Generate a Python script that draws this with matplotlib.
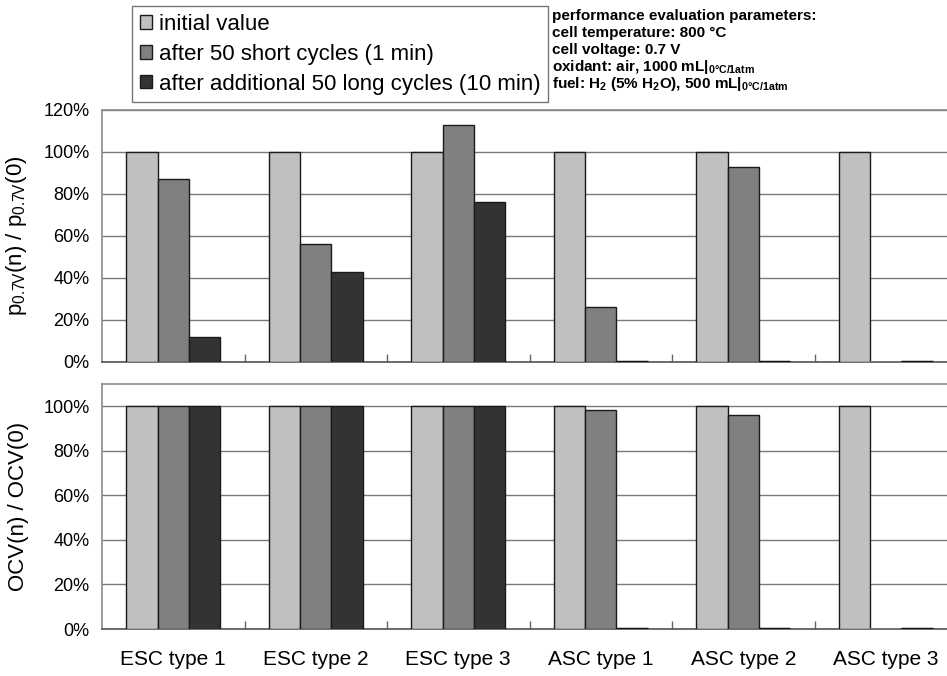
import numpy as np
import matplotlib
matplotlib.use("Agg")
import matplotlib.pyplot as plt
from matplotlib.patches import Patch
from matplotlib.ticker import FixedLocator, FuncFormatter

plt.rcParams['font.family'] = ['Liberation Sans', 'DejaVu Sans']
plt.rcParams['mathtext.fontset'] = 'custom'
plt.rcParams['mathtext.rm'] = 'Liberation Sans'
plt.rcParams['mathtext.bf'] = 'Liberation Sans:bold'
plt.rcParams['mathtext.it'] = 'Liberation Sans:italic'

# data
cells = ["ESC type 1", "ESC type 2", "ESC type 3", "ASC type 1", "ASC type 2", "ASC type 3"]
series = ["initial value", "after 50 short cycles (1 min)",
          "after additional 50 long cycles (10 min)"]
power_initial = [100, 100, 100, 100, 100, 100]
power_short = [87, 56, 113, 26, 93, 0]
power_long = [12, 43, 76, 0, 0, 0]
ocv_initial = [100, 100, 100, 100, 100, 100]
ocv_short = [100, 100, 100, 98.5, 96, 0]
ocv_long = [100, 100, 100, 0, 0, 0]

colors = ["#c0c0c0", "#808080", "#333333"]
params = [
    "performance evaluation parameters:",
    "cell temperature: 800 °C",
    "cell voltage: 0.7 V",
    r"oxidant: air, 1000 mL|$\mathbf{_{0°C/1atm}}$",
    r"fuel: H$\mathbf{_2}$ (5% H$\mathbf{_2}$O), 500 mL|$\mathbf{_{0°C/1atm}}$",
]

fig = plt.figure(figsize=(9.47, 6.76), dpi=100)
W, H = 947, 676
ax_top = fig.add_axes([102 / W, 1 - 362 / H, 855 / W, 252 / H])
ax_bot = fig.add_axes([102 / W, 1 - 629 / H, 855 / W, 245 / H])

x = np.arange(len(cells)) + 0.5
w = 0.22


def draw_panel(ax, data, ymax, ylabel):
    for k, vals in enumerate(data):
        bars = ax.bar(x + (k - 1) * w, vals, width=w, color=colors[k],
                      edgecolor="#1a1a1a", linewidth=1.0, zorder=3)
        # zero-height bars show up as a thick flat line in the original
        for b, v in zip(bars, vals):
            if v == 0:
                b.set_linewidth(2.5 if k == 2 else 1.2)
                b.set_edgecolor("#111111" if k == 2 else "#777777")
    ax.set_xlim(0, len(cells))
    ax.set_ylim(0, ymax)
    ax.yaxis.set_major_locator(FixedLocator(np.arange(0, ymax + 1, 20)))
    ax.yaxis.set_major_formatter(FuncFormatter(lambda v, p: f"{v:.0f}%"))
    ax.grid(axis="y", color="#7a7a7a", linewidth=1.0, zorder=0)
    ax.tick_params(axis="y", length=0, pad=9, labelsize=13)
    ax.set_xticks(x)
    ax.set_xticks(np.arange(1, len(cells)), minor=True)
    ax.tick_params(axis="x", which="major", length=0, pad=15, labelsize=15)
    ax.tick_params(axis="x", which="minor", direction="in", length=6,
                   color="#666666", width=1)
    for s in ["left", "top", "right"]:
        ax.spines[s].set_color("#8a8a8a")
        ax.spines[s].set_linewidth(1.2)
    ax.spines["bottom"].set_color("#555555")
    ax.spines["bottom"].set_linewidth(1.2)
    ax.set_ylabel(ylabel, fontsize=16, labelpad=10)


draw_panel(ax_top, [power_initial, power_short, power_long], 120,
           r"$\mathrm{p_{0.7V}}$(n) / $\mathrm{p_{0.7V}}$(0)")
ax_top.set_xticklabels([])
draw_panel(ax_bot, [ocv_initial, ocv_short, ocv_long], 110, "OCV(n) / OCV(0)")
ax_bot.set_xticklabels(cells)

handles = [Patch(facecolor=c, edgecolor="#1a1a1a", linewidth=1.0) for c in colors]
leg = fig.legend(handles, series, loc="upper left",
                 bbox_to_anchor=(132 / W, 1 - 6 / H), borderaxespad=0,
                 fontsize=16, frameon=True, fancybox=False,
                 handlelength=0.55, handleheight=0.55, handletextpad=0.3,
                 labelspacing=0.4, borderpad=0.35)
leg.get_frame().set_edgecolor("#555555")
leg.get_frame().set_linewidth(1.0)

# parameter block to the right of the legend
for i, line in enumerate(params):
    fig.text(552 / W, 1 - (16 + i * 17) / H, line, fontsize=11,
             fontweight="bold", va="center", ha="left")

fig.savefig("out.png", dpi=100)
